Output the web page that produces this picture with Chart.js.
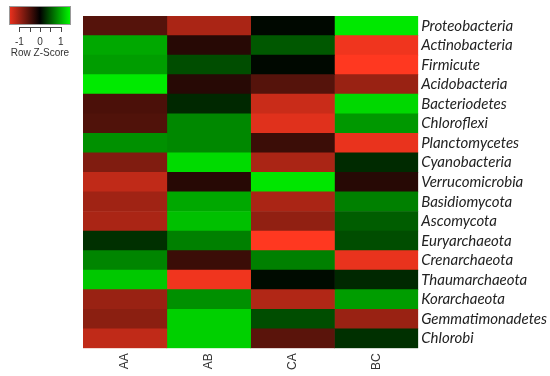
<!DOCTYPE html>
<html>
<head>
<meta charset="utf-8">
<title>Heatmap</title>
<script src="https://cdn.jsdelivr.net/npm/chart.js@4/dist/chart.umd.min.js"></script>
<style>
    html, body { margin: 0; padding: 0; background: #fff; }
    #wrap { width: 550px; height: 376px; position: relative; }
</style>
</head>
<body>
<div id="wrap"><canvas id="heatmap"></canvas></div>
<script>
// Rows (phyla), top to bottom
const filos = ['Proteobacteria', 'Actinobacteria', 'Firmicute', 'Acidobacteria', 'Bacteriodetes',
    'Chloroflexi', 'Planctomycetes', 'Cyanobacteria', 'Verrucomicrobia', 'Basidiomycota',
    'Ascomycota', 'Euryarchaeota', 'Crenarchaeota', 'Thaumarchaeota', 'Korarchaeota',
    'Gemmatimonadetes', 'Chlorobi'];

// Samples (columns)
const amostras = ['AA', 'AB', 'CA', 'BC'];

const zAA = [-0.5, 1.05, 0.98, 1.46, -0.44, -0.47, 0.9, -0.75, -1.13, -0.94, -1.0, 0.3, 0.83, 1.25, -0.9, -0.82, -1.13];
const zAB = [-1.0, -0.23, 0.48, -0.23, 0.25, 0.85, 0.85, 1.37, -0.23, 1.05, 1.2, 0.8, -0.35, -1.41, 0.9, 1.3, 1.3];
const zCA = [0.05, 0.55, 0.05, -0.5, -1.18, -1.32, -0.35, -1.0, 1.44, -1.0, -0.85, -1.5, 0.8, 0.07, -1.04, 0.48, -0.53];
const zBC = [1.45, -1.41, -1.5, -0.9, 1.35, 0.95, -1.37, 0.26, -0.23, 0.8, 0.58, 0.48, -1.37, 0.25, 0.98, -0.9, 0.3];

// Colour key ticks
const legendaTicks = [-1, 0, 1];
const zLimite = 1.5;

document.addEventListener('DOMContentLoaded', function() {
    desenharHeatmap();
});

// red - black - green scale
function corZ(z) {
    const t = Math.min(1, Math.abs(z) / zLimite);
    if (z < 0) {
        return `rgb(${Math.round(255 * t)}, ${Math.round(56 * t)}, ${Math.round(32 * t)})`;
    }
    return `rgb(0, ${Math.round(240 * t)}, 0)`;
}

// Colour key drawn in the top-left corner
const legendaCor = {
    id: 'legendaCor',
    afterDraw(chart) {
        const ctx = chart.ctx;
        const x0 = 9, y0 = 6, w = 62, h = 19;
        const grad = ctx.createLinearGradient(x0, 0, x0 + w, 0);
        grad.addColorStop(0, 'rgb(240, 50, 30)');
        grad.addColorStop(0.5, 'rgb(0, 0, 0)');
        grad.addColorStop(1, 'rgb(0, 255, 0)');
        ctx.save();
        ctx.fillStyle = grad;
        ctx.fillRect(x0, y0, w, h);
        ctx.strokeStyle = '#999';
        ctx.lineWidth = 1;
        ctx.strokeRect(x0 + 0.5, y0 + 0.5, w - 1, h - 1);

        // tick marks every 0.5
        const escala = w / (2 * zLimite);
        ctx.strokeStyle = '#444';
        ctx.beginPath();
        for (let v = -1; v <= 1.001; v += 0.5) {
            const px = Math.round(x0 + (v + zLimite) * escala) + 0.5;
            ctx.moveTo(px, y0 + h + 2);
            ctx.lineTo(px, y0 + h + 7);
        }
        ctx.moveTo(x0 + (-1 + zLimite) * escala, y0 + h + 2.5);
        ctx.lineTo(x0 + (1 + zLimite) * escala + 1, y0 + h + 2.5);
        ctx.stroke();

        ctx.fillStyle = '#333';
        ctx.font = '10px "Liberation Sans", Arial, sans-serif';
        ctx.textAlign = 'center';
        ctx.textBaseline = 'middle';
        legendaTicks.forEach(v => {
            ctx.fillText(String(v), x0 + (v + zLimite) * escala, 42);
        });
        ctx.fillText('Row Z-Score', x0 + w / 2, 53);
        ctx.restore();
    }
};

function desenharHeatmap() {
    const series = [zAA, zAB, zCA, zBC];
    const datasets = amostras.map((nome, i) => ({
        label: nome,
        data: filos.map(() => 1),
        backgroundColor: series[i].map(corZ),
        borderWidth: 0,
        categoryPercentage: 1.0,
        barPercentage: 1.0
    }));

    new Chart(document.getElementById('heatmap'), {
        type: 'bar',
        data: { labels: filos, datasets: datasets },
        plugins: [legendaCor],
        options: {
            indexAxis: 'y',
            responsive: true,
            maintainAspectRatio: false,
            animation: false,
            layout: { padding: { left: 83, top: 16, right: 0, bottom: 1 } },
            plugins: {
                legend: { display: false },
                tooltip: { enabled: false }
            },
            scales: {
                x: {
                    stacked: true,
                    min: 0,
                    max: amostras.length,
                    display: false
                },
                x2: {
                    type: 'category',
                    labels: amostras,
                    position: 'bottom',
                    offset: true,
                    grid: { display: false, drawTicks: false },
                    border: { display: false },
                    ticks: {
                        minRotation: 90,
                        maxRotation: 90,
                        padding: 5,
                        color: '#333',
                        font: { family: '"Liberation Sans", Arial, sans-serif', size: 12 }
                    }
                },
                y: {
                    stacked: true,
                    position: 'right',
                    grid: { display: false, drawTicks: false },
                    border: { display: false },
                    ticks: {
                        padding: 3,
                        autoSkip: false,
                        color: '#222',
                        font: { family: 'Lato, "Open Sans", sans-serif', size: 15, style: 'italic' }
                    }
                }
            }
        }
    });
}
</script>
</body>
</html>
